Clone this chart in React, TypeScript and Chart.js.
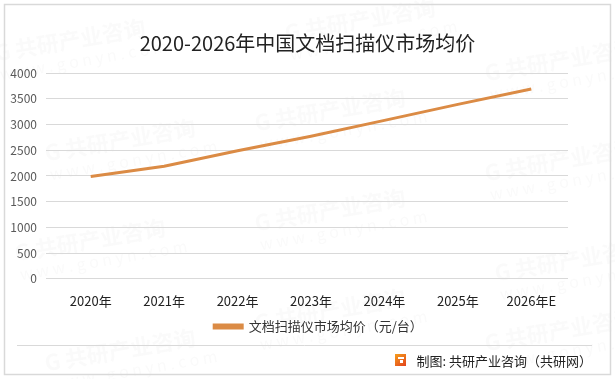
import React, { useEffect, useRef } from "react";
import { Chart, registerables } from "chart.js";

Chart.register(...registerables);

const categories = ["2020年", "2021年", "2022年", "2023年", "2024年", "2025年", "2026年E"];
const priceValues = [1990, 2190, 2490, 2770, 3080, 3390, 3690];
const seriesLabel = "文档扫描仪市场均价（元/台）";
const titleText = "2020-2026年中国文档扫描仪市场均价";
const sourceText = "制图: 共研产业咨询（共研网）";
const yTicksMax = 4000;
const yTickStep = 500;

const FONT = "'Noto Sans CJK SC', 'Noto Sans', sans-serif";
const ORANGE = "#DB8B45";

const framePlugin = {
  id: "frame",
  afterLayout(chart: any) {
    const lg = chart.legend;
    if (lg) {
      lg.left += 11;
      lg.right += 11;
    }
  },
  beforeDraw(chart: any) {
    const ctx = chart.ctx;
    ctx.save();
    ctx.fillStyle = "#ffffff";
    ctx.fillRect(0, 0, chart.width, chart.height);
    ctx.fillStyle = "rgba(120,120,120,0.035)";
    const marks = [
      [70, 40], [360, 20], [560, 60], [120, 140], [330, 110], [560, 160],
      [90, 240], [330, 210], [570, 260], [330, 310], [120, 350], [560, 330],
    ];
    for (const [x, y] of marks) {
      ctx.save();
      ctx.translate(x, y);
      ctx.rotate(-0.17);
      ctx.font = `bold 22px ${FONT}`;
      ctx.textAlign = "center";
      ctx.fillText("G 共研产业咨询", 0, 0);
      ctx.font = `16px ${FONT}`;
      ctx.fillText("w w w . g o n y n . c o m", 10, 22);
      ctx.restore();
    }
    ctx.restore();
  },
  afterDraw(chart: any) {
    const ctx = chart.ctx;
    ctx.save();
    ctx.strokeStyle = "#d9d9d9";
    ctx.lineWidth = 1.5;
    ctx.strokeRect(4.5, 4.5, 606, 370);
    ctx.lineWidth = 1;
    ctx.beginPath();
    ctx.moveTo(17, 345.5);
    ctx.lineTo(592, 345.5);
    ctx.stroke();
    const g = ctx.createLinearGradient(395, 353, 405, 366);
    g.addColorStop(0, "#F7A21B");
    g.addColorStop(1, "#E2461E");
    ctx.fillStyle = g;
    ctx.fillRect(395, 354, 11, 12);
    ctx.fillStyle = "#ffffff";
    ctx.fillRect(398, 357, 6, 2);
    ctx.fillRect(400, 360, 3, 3);
    ctx.fillStyle = "#222222";
    ctx.font = `13px ${FONT}`;
    ctx.textAlign = "right";
    ctx.textBaseline = "middle";
    ctx.fillText(sourceText, 592, 361);
    ctx.restore();
  },
};

export default function App() {
  const ref = useRef<HTMLCanvasElement>(null);
  useEffect(() => {
    if (!ref.current) return;
    const chart = new Chart(ref.current, {
      type: "line",
      data: {
        labels: categories,
        datasets: [
          {
            label: seriesLabel,
            data: priceValues,
            borderColor: ORANGE,
            backgroundColor: ORANGE,
            borderWidth: 3,
            pointRadius: 0,
            tension: 0,
          },
        ],
      },
      options: {
        responsive: false,
        animation: false,
        layout: { padding: { left: 5, right: 5, top: 0, bottom: 36 } },
        plugins: {
          title: {
            display: true,
            text: titleText,
            color: "#222222",
            font: { family: FONT, size: 20, weight: "normal" },
            padding: { top: 31, bottom: 18 },
          },
          legend: {
            position: "bottom",
            labels: {
              color: "#333333",
              font: { family: FONT, size: 13 },
              boxWidth: 28,
              boxHeight: 3,
              padding: 4.5,
            },
          },
          tooltip: { enabled: false },
        },
        scales: {
          x: {
            offset: true,
            grid: { display: false },
            border: { display: false },
            ticks: {
              color: "#222222",
              font: { family: FONT, size: 13 },
              padding: 6.5,
              maxRotation: 0,
            },
          },
          y: {
            min: 0,
            max: yTicksMax,
            grid: { color: "#d9d9d9", lineWidth: 1 },
            border: { display: false },
            afterFit: (s: any) => {
              s.width = 49;
            },
            ticks: {
              stepSize: yTickStep,
              color: "#595959",
              font: { family: FONT, size: 12 },
              padding: 9,
              callback: (v: any) => String(v),
            },
          },
          yRight: {
            position: "right",
            display: true,
            grid: { display: false },
            border: { display: false },
            ticks: { display: false },
            afterFit: (s: any) => {
              s.width = 42;
            },
          },
        },
      },
      plugins: [framePlugin],
    });
    return () => chart.destroy();
  }, []);
  return (
    <div style={{ position: "fixed", left: 0, top: 0, width: 615, height: 379 }}>
      <canvas ref={ref} width={615} height={379} style={{ width: 615, height: 379 }} />
    </div>
  );
}
